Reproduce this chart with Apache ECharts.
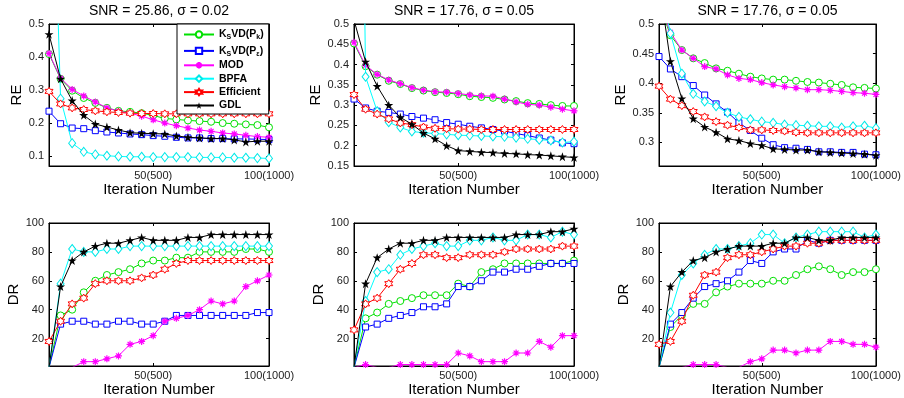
<!DOCTYPE html>
<html>
<head>
<meta charset="utf-8">
<script src="https://cdn.jsdelivr.net/npm/echarts@6/dist/echarts.min.js"></script>
<style>
  html, body { margin: 0; padding: 0; background: #fff; }
  #chart { width: 904px; height: 398px; }
</style>
</head>
<body>
<div id="chart"></div>
<script>
// x positions (20 samples, label k = k*5 iterations)
const iterations = [1, 2, 3, 4, 5, 6, 7, 8, 9, 10, 11, 12, 13, 14, 15, 16, 17, 18, 19, 20];
const xTickValues = [10, 20];
const xTickLabels = ['50(500)', '100(1000)'];

const methods = ['KSVD(Pk)', 'KSVD(Pe)', 'MOD', 'BPFA', 'Efficient', 'GDL'];
const panelTitles = ['SNR = 25.86, σ = 0.02', 'SNR = 17.76, σ = 0.05', 'SNR = 17.76, σ = 0.05'];

const reTicksA = [0.1, 0.2, 0.3, 0.4, 0.5];
const reTicksB = [0.15, 0.2, 0.25, 0.3, 0.35, 0.4, 0.45, 0.5];
const reTicksC = [0.3, 0.35, 0.4, 0.45, 0.5];
const drTicks = [20, 40, 60, 80, 100];

// RE, SNR = 25.86
const reA_Pk = [0.409, 0.334, 0.298, 0.276, 0.261, 0.246, 0.237, 0.234, 0.230, 0.223, 0.214, 0.211, 0.208, 0.206, 0.204, 0.200, 0.198, 0.196, 0.194, 0.187];
const reA_Pe = [0.236, 0.198, 0.185, 0.183, 0.177, 0.173, 0.170, 0.167, 0.165, 0.162, 0.160, 0.157, 0.155, 0.155, 0.153, 0.153, 0.152, 0.152, 0.151, 0.150];
const reA_MOD = [0.411, 0.336, 0.302, 0.282, 0.264, 0.246, 0.236, 0.230, 0.221, 0.210, 0.200, 0.192, 0.185, 0.179, 0.175, 0.170, 0.167, 0.163, 0.159, 0.157];
const reA_BPFA = [1.4, 0.274, 0.139, 0.113, 0.105, 0.101, 0.099, 0.098, 0.098, 0.097, 0.097, 0.097, 0.097, 0.096, 0.096, 0.096, 0.095, 0.095, 0.094, 0.093];
const reA_Eff = [0.296, 0.258, 0.246, 0.241, 0.237, 0.234, 0.232, 0.230, 0.229, 0.229, 0.228, 0.228, 0.228, 0.228, 0.228, 0.228, 0.228, 0.228, 0.228, 0.228];
const reA_GDL = [0.469, 0.334, 0.268, 0.224, 0.197, 0.188, 0.179, 0.171, 0.169, 0.168, 0.167, 0.161, 0.157, 0.155, 0.153, 0.153, 0.149, 0.143, 0.145, 0.145];

// RE, SNR = 17.76 (middle)
const reB_Pk = [0.452, 0.396, 0.375, 0.360, 0.352, 0.342, 0.336, 0.332, 0.330, 0.327, 0.322, 0.320, 0.318, 0.314, 0.310, 0.305, 0.303, 0.300, 0.298, 0.298];
const reB_Pe = [0.315, 0.293, 0.285, 0.282, 0.278, 0.272, 0.268, 0.264, 0.257, 0.253, 0.248, 0.244, 0.240, 0.236, 0.230, 0.225, 0.219, 0.214, 0.207, 0.205];
const reB_MOD = [0.455, 0.398, 0.376, 0.362, 0.353, 0.343, 0.337, 0.333, 0.332, 0.329, 0.325, 0.323, 0.322, 0.315, 0.308, 0.302, 0.300, 0.295, 0.290, 0.286];
const reB_BPFA = [2.6, 0.370, 0.285, 0.258, 0.245, 0.235, 0.232, 0.230, 0.228, 0.226, 0.225, 0.224, 0.223, 0.222, 0.220, 0.217, 0.215, 0.213, 0.208, 0.210];
const reB_Eff = [0.326, 0.290, 0.278, 0.266, 0.256, 0.252, 0.246, 0.243, 0.242, 0.241, 0.241, 0.240, 0.240, 0.240, 0.240, 0.240, 0.240, 0.240, 0.240, 0.240];
const reB_GDL = [0.51, 0.407, 0.347, 0.300, 0.270, 0.253, 0.231, 0.217, 0.200, 0.188, 0.186, 0.184, 0.183, 0.181, 0.180, 0.178, 0.177, 0.175, 0.173, 0.171];

// RE, SNR = 17.76 (right)
const reC_Pk = [0.535, 0.481, 0.456, 0.442, 0.434, 0.425, 0.421, 0.416, 0.411, 0.408, 0.406, 0.406, 0.404, 0.402, 0.401, 0.399, 0.397, 0.393, 0.392, 0.391];
const reC_Pe = [0.445, 0.424, 0.411, 0.396, 0.380, 0.365, 0.351, 0.333, 0.320, 0.307, 0.296, 0.291, 0.290, 0.288, 0.284, 0.284, 0.283, 0.283, 0.280, 0.279];
const reC_MOD = [0.535, 0.486, 0.456, 0.442, 0.428, 0.424, 0.414, 0.408, 0.406, 0.401, 0.397, 0.394, 0.392, 0.389, 0.389, 0.388, 0.386, 0.384, 0.383, 0.381];
const reC_BPFA = [0.58, 0.484, 0.416, 0.382, 0.369, 0.361, 0.350, 0.343, 0.339, 0.335, 0.333, 0.330, 0.329, 0.328, 0.327, 0.327, 0.325, 0.327, 0.328, 0.324];
const reC_Eff = [0.395, 0.373, 0.362, 0.352, 0.343, 0.335, 0.329, 0.325, 0.321, 0.321, 0.320, 0.319, 0.317, 0.316, 0.316, 0.316, 0.316, 0.316, 0.316, 0.316];
const reC_GDL = [0.57, 0.437, 0.374, 0.340, 0.326, 0.317, 0.306, 0.303, 0.298, 0.295, 0.289, 0.288, 0.287, 0.287, 0.284, 0.283, 0.282, 0.281, 0.280, 0.278];

// DR, SNR = 25.86
const drA_Pk = [0, 36, 40, 52, 60, 64, 66, 68, 72, 74, 74, 76, 76, 80, 80, 80, 80, 82, 82, 80];
const drA_Pe = [0, 30, 32, 32, 30, 30, 32, 32, 30, 30, 32, 36, 36, 36, 36, 36, 36, 36, 38, 38];
const drA_MOD = [0, 0, 0, 4, 4, 6, 8, 16, 18, 22, 32, 34, 36, 40, 46, 44, 46, 56, 60, 64];
const drA_BPFA = [0, 58, 82, 80, 80, 82, 82, 84, 84, 84, 84, 84, 84, 84, 84, 84, 84, 84, 84, 84];
const drA_Eff = [18, 32, 44, 48, 58, 60, 60, 60, 62, 64, 68, 72, 74, 74, 74, 74, 74, 74, 74, 74];
const drA_GDL = [0, 56, 74, 80, 84, 86, 86, 88, 90, 88, 88, 88, 90, 90, 92, 92, 92, 92, 92, 92];

// DR, SNR = 17.76 (middle)
const drB_Pk = [0, 34, 38, 44, 46, 48, 50, 50, 50, 58, 56, 66, 68, 72, 72, 72, 72, 72, 72, 74];
const drB_Pe = [0, 28, 30, 34, 36, 38, 42, 42, 44, 56, 56, 60, 66, 66, 68, 68, 70, 72, 72, 72];
const drB_MOD = [0, 2, 0, 0, 2, 2, 2, 2, 2, 10, 8, 4, 4, 4, 10, 10, 18, 14, 22, 22];
const drB_BPFA = [0, 46, 66, 68, 78, 82, 84, 86, 84, 84, 88, 88, 90, 88, 88, 92, 92, 90, 94, 92];
const drB_Eff = [26, 44, 48, 58, 68, 72, 78, 78, 76, 76, 78, 78, 78, 80, 82, 82, 82, 82, 84, 84];
const drB_GDL = [0, 58, 76, 82, 86, 86, 88, 88, 90, 90, 90, 90, 90, 90, 92, 92, 92, 94, 94, 96];

// DR, SNR = 17.76 (right)
const drC_Pk = [0, 28, 36, 44, 44, 52, 56, 58, 58, 58, 60, 60, 64, 68, 70, 68, 64, 66, 66, 68];
const drC_Pe = [0, 30, 38, 48, 56, 58, 60, 66, 74, 72, 80, 82, 82, 88, 86, 88, 88, 88, 88, 88];
const drC_MOD = [0, 0, 0, 2, 2, 2, 0, 0, 4, 6, 12, 12, 10, 12, 12, 18, 18, 16, 16, 14];
const drC_BPFA = [0, 38, 64, 72, 78, 82, 82, 84, 86, 92, 92, 86, 90, 92, 94, 94, 94, 94, 90, 92];
const drC_Eff = [16, 18, 32, 50, 64, 66, 76, 78, 78, 80, 82, 84, 84, 86, 86, 88, 88, 88, 88, 88];
const drC_GDL = [0, 56, 66, 74, 76, 80, 82, 84, 84, 84, 86, 86, 90, 90, 88, 88, 90, 90, 90, 90];

const FONT = '"Liberation Sans", Arial, Helvetica, sans-serif';

// MATLAB-like markers
const HEXAGRAM = 'path://M50 0L64.43 25L93.3 25L78.87 50L93.3 75L64.43 75L50 100L35.57 75L6.7 75L21.13 50L6.7 25L35.57 25Z';
const PENTAGRAM = 'path://M50 0L61.23 34.55L97.55 34.55L68.16 55.9L79.39 90.45L50 69.1L20.61 90.45L31.84 55.9L2.45 34.55L38.77 34.55Z';
const ASTERISK = 'path://M50 0L50 100M0 50L100 50M15 15L85 85M85 15L15 85';

// hollow markers: white fill + thin coloured outline
const styles = {
  'KSVD(Pk)': { symbol: 'circle', size: 7, line: '#00e000', item: { color: '#ffffff', borderColor: '#00e000', borderWidth: 1 } },
  'KSVD(Pe)': { symbol: 'rect', size: 6, line: '#0000ff', item: { color: '#ffffff', borderColor: '#0000ff', borderWidth: 1 } },
  'MOD': { symbol: ASTERISK, size: 7, line: '#ff00ff', item: { color: '#ff00ff', borderColor: '#ff00ff', borderWidth: 1.2 } },
  'BPFA': { symbol: 'diamond', size: [7, 9], line: '#00ffff', item: { color: '#ffffff', borderColor: '#00e8e8', borderWidth: 1 } },
  'Efficient': { symbol: HEXAGRAM, size: 8, line: '#ff0000', item: { color: '#ffffff', borderColor: '#ff0000', borderWidth: 1 } },
  'GDL': { symbol: PENTAGRAM, size: 9, line: '#000000', item: { color: '#000000' } }
};

const legendLabels = {
  'KSVD(Pk)': '{n|K}{s|S}{n|VD(P}{s|k}{n|)}',
  'KSVD(Pe)': '{n|K}{s|S}{n|VD(P}{s|ε}{n|)}',
  'MOD': '{n|MOD}',
  'BPFA': '{n|BPFA}',
  'Efficient': '{n|Efficient}',
  'GDL': '{n|GDL}'
};

const panels = [
  { left: 49, top: 24, h: 142, title: panelTitles[0], yName: 'RE', min: 0.07, max: 0.5, ticks: reTicksA, gap: 14,
    data: [reA_Pk, reA_Pe, reA_MOD, reA_BPFA, reA_Eff, reA_GDL] },
  { left: 354, top: 24, h: 142, title: panelTitles[1], yName: 'RE', min: 0.15, max: 0.5, ticks: reTicksB, gap: 14,
    data: [reB_Pk, reB_Pe, reB_MOD, reB_BPFA, reB_Eff, reB_GDL] },
  { left: 659, top: 24, h: 142, title: panelTitles[2], yName: 'RE', min: 0.26, max: 0.5, ticks: reTicksC, gap: 14,
    data: [reC_Pk, reC_Pe, reC_MOD, reC_BPFA, reC_Eff, reC_GDL] },
  { left: 49, top: 223, h: 143, title: '', yName: 'DR', min: 1, max: 100, ticks: drTicks, gap: 12,
    data: [drA_Pk, drA_Pe, drA_MOD, drA_BPFA, drA_Eff, drA_GDL] },
  { left: 354, top: 223, h: 143, title: '', yName: 'DR', min: 1, max: 100, ticks: drTicks, gap: 12,
    data: [drB_Pk, drB_Pe, drB_MOD, drB_BPFA, drB_Eff, drB_GDL] },
  { left: 659, top: 223, h: 143, title: '', yName: 'DR', min: 1, max: 100, ticks: drTicks, gap: 12,
    data: [drC_Pk, drC_Pe, drC_MOD, drC_BPFA, drC_Eff, drC_GDL] }
];

const axisLine = { show: true, onZero: false, lineStyle: { color: '#000', width: 1 } };

const grids = [], xAxes = [], yAxes = [], series = [];
const n = panels.length;

panels.forEach((p, i) => {
  grids.push({ left: p.left, top: p.top, width: 220, height: p.h, show: true, borderColor: '#000', borderWidth: 1, backgroundColor: '#fff' });

  xAxes[i] = {
    type: 'value', gridIndex: i, min: 1, max: 20, position: 'bottom',
    name: 'Iteration Number', nameLocation: 'middle', nameGap: p.gap,
    nameTextStyle: { fontSize: 15, color: '#000', fontFamily: FONT },
    axisLine,
    axisTick: { inside: true, length: 3, customValues: xTickValues, lineStyle: { color: '#000' } },
    axisLabel: { customValues: xTickValues, margin: 4, fontSize: 11, color: '#222', fontFamily: FONT,
      formatter: v => xTickLabels[xTickValues.indexOf(v)] },
    splitLine: { show: false }
  };
  // top mirror axis: ticks + panel title
  xAxes[n + i] = {
    type: 'value', gridIndex: i, min: 1, max: 20, position: 'top',
    name: p.title, nameLocation: 'middle', nameGap: 6,
    nameTextStyle: { fontSize: 14, color: '#000', fontFamily: FONT },
    axisLine,
    axisTick: { inside: true, length: 3, customValues: xTickValues, lineStyle: { color: '#000' } },
    axisLabel: { show: false },
    splitLine: { show: false }
  };

  yAxes[i] = {
    type: 'value', gridIndex: i, min: p.min, max: p.max, position: 'left',
    name: p.yName, nameLocation: 'middle', nameGap: 25,
    nameTextStyle: { fontSize: 15, color: '#000', fontFamily: FONT },
    axisLine,
    axisTick: { inside: true, length: 3, customValues: p.ticks, lineStyle: { color: '#000' } },
    axisLabel: { customValues: p.ticks, margin: 5, fontSize: 11, color: '#222', fontFamily: FONT,
      formatter: v => String(+v.toFixed(2)) },
    splitLine: { show: false }
  };
  yAxes[n + i] = {
    type: 'value', gridIndex: i, min: p.min, max: p.max, position: 'right',
    axisLine,
    axisTick: { inside: true, length: 3, customValues: p.ticks, lineStyle: { color: '#000' } },
    axisLabel: { show: false },
    splitLine: { show: false }
  };

  methods.forEach((m, k) => {
    const s = styles[m];
    series.push({
      type: 'line', name: m, xAxisIndex: i, yAxisIndex: i,
      data: iterations.map((x, j) => [x, p.data[k][j]]),
      symbol: s.symbol, symbolSize: s.size, showSymbol: true, showAllSymbol: true,
      lineStyle: { color: s.line, width: 1 },
      itemStyle: s.item,
      emphasis: { disabled: true },
      z: 2 + k * 0.01
    });
  });
});

const chart = echarts.init(document.getElementById('chart'), null, { renderer: 'canvas' });
chart.setOption({
  animation: false,
  backgroundColor: '#fff',
  grid: grids,
  xAxis: xAxes,
  yAxis: yAxes,
  legend: {
    data: methods,
    orient: 'vertical',
    left: 177, top: 24,
    padding: [3, 5, 3, 6],
    itemWidth: 30, itemHeight: 8, itemGap: 2.4,
    backgroundColor: '#fff', borderColor: '#000', borderWidth: 1,
    selectedMode: false,
    formatter: name => legendLabels[name],
    textStyle: {
      color: '#000', fontFamily: FONT, fontSize: 10.5, fontWeight: 'bold',
      rich: {
        n: { fontSize: 10.5, fontWeight: 'bold', fontFamily: FONT, color: '#000', lineHeight: 13 },
        s: { fontSize: 7, fontWeight: 'bold', fontFamily: FONT, color: '#000', lineHeight: 6, padding: [7, 0, 0, 0], verticalAlign: 'bottom' }
      }
    }
  },
  series
});
</script>
</body>
</html>
